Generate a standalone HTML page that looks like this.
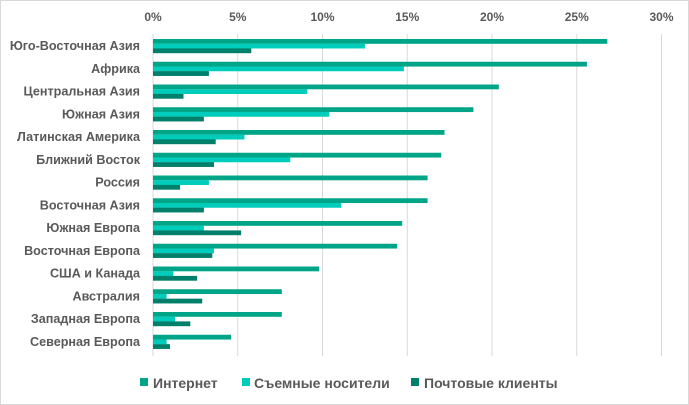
<!DOCTYPE html><html><head><meta charset="utf-8"><style>body{margin:0;background:#fff}svg{display:block}text{font-family:"Liberation Sans",sans-serif;fill:#595959;font-weight:bold;font-size:12px}.a{fill:#00a487}.b{fill:#00ccbc}.c{fill:#007f6b}.l{text-anchor:end;font-size:12.6px}.g{font-size:14px}</style></head><body>
<svg width="689" height="405" xmlns="http://www.w3.org/2000/svg">
<rect x="0.5" y="0.5" width="688" height="404" fill="#fff" stroke="#d9d9d9"/>
<g stroke="#d9d9d9">
<line x1="153" y1="34" x2="153" y2="356"/><line x1="237.75" y1="34" x2="237.75" y2="356"/><line x1="322.5" y1="34" x2="322.5" y2="356"/><line x1="407.25" y1="34" x2="407.25" y2="356"/><line x1="492" y1="34" x2="492" y2="356"/><line x1="576.75" y1="34" x2="576.75" y2="356"/><line x1="661.5" y1="34" x2="661.5" y2="356"/>
</g>
<g text-anchor="middle">
<text x="153" y="21">0%</text><text x="237.75" y="21">5%</text><text x="322.5" y="21">10%</text><text x="407.25" y="21">15%</text><text x="492" y="21">20%</text><text x="576.75" y="21">25%</text><text x="661.5" y="21">30%</text>
</g>
<g transform="translate(153,39)"><rect class="a" y="0" width="454.3" height="4.8"/><rect class="b" y="4.7" width="211.9" height="4.8"/><rect class="c" y="9.4" width="98.3" height="4.8"/><text class="l" x="-13" y="11">Юго-Восточная Азия</text></g>
<g transform="translate(153,61.75)"><rect class="a" y="0" width="433.9" height="4.8"/><rect class="b" y="4.7" width="250.9" height="4.8"/><rect class="c" y="9.4" width="55.9" height="4.8"/><text class="l" x="-13" y="11">Африка</text></g>
<g transform="translate(153,84.5)"><rect class="a" y="0" width="345.8" height="4.8"/><rect class="b" y="4.7" width="154.2" height="4.8"/><rect class="c" y="9.4" width="30.5" height="4.8"/><text class="l" x="-13" y="11">Центральная Азия</text></g>
<g transform="translate(153,107.25)"><rect class="a" y="0" width="320.4" height="4.8"/><rect class="b" y="4.7" width="176.3" height="4.8"/><rect class="c" y="9.4" width="50.9" height="4.8"/><text class="l" x="-13" y="11">Южная Азия</text></g>
<g transform="translate(153,130)"><rect class="a" y="0" width="291.5" height="4.8"/><rect class="b" y="4.7" width="91.5" height="4.8"/><rect class="c" y="9.4" width="62.7" height="4.8"/><text class="l" x="-13" y="11">Латинская Америка</text></g>
<g transform="translate(153,152.75)"><rect class="a" y="0" width="288.2" height="4.8"/><rect class="b" y="4.7" width="137.3" height="4.8"/><rect class="c" y="9.4" width="61" height="4.8"/><text class="l" x="-13" y="11">Ближний Восток</text></g>
<g transform="translate(153,175.5)"><rect class="a" y="0" width="274.6" height="4.8"/><rect class="b" y="4.7" width="55.9" height="4.8"/><rect class="c" y="9.4" width="27.1" height="4.8"/><text class="l" x="-13" y="11">Россия</text></g>
<g transform="translate(153,198.25)"><rect class="a" y="0" width="274.6" height="4.8"/><rect class="b" y="4.7" width="188.1" height="4.8"/><rect class="c" y="9.4" width="50.9" height="4.8"/><text class="l" x="-13" y="11">Восточная Азия</text></g>
<g transform="translate(153,221)"><rect class="a" y="0" width="249.2" height="4.8"/><rect class="b" y="4.7" width="50.9" height="4.8"/><rect class="c" y="9.4" width="88.1" height="4.8"/><text class="l" x="-13" y="11">Южная Европа</text></g>
<g transform="translate(153,243.75)"><rect class="a" y="0" width="244.1" height="4.8"/><rect class="b" y="4.7" width="61" height="4.8"/><rect class="c" y="9.4" width="59.3" height="4.8"/><text class="l" x="-13" y="11">Восточная Европа</text></g>
<g transform="translate(153,266.5)"><rect class="a" y="0" width="166.1" height="4.8"/><rect class="b" y="4.7" width="20.3" height="4.8"/><rect class="c" y="9.4" width="44.1" height="4.8"/><text class="l" x="-13" y="11">США и Канада</text></g>
<g transform="translate(153,289.25)"><rect class="a" y="0" width="128.8" height="4.8"/><rect class="b" y="4.7" width="13.6" height="4.8"/><rect class="c" y="9.4" width="49.2" height="4.8"/><text class="l" x="-13" y="11">Австралия</text></g>
<g transform="translate(153,312)"><rect class="a" y="0" width="128.8" height="4.8"/><rect class="b" y="4.7" width="22" height="4.8"/><rect class="c" y="9.4" width="37.3" height="4.8"/><text class="l" x="-13" y="11">Западная Европа</text></g>
<g transform="translate(153,334.75)"><rect class="a" y="0" width="78" height="4.8"/><rect class="b" y="4.7" width="13.6" height="4.8"/><rect class="c" y="9.4" width="17" height="4.8"/><text class="l" x="-13" y="11">Северная Европа</text></g>
<rect class="a" x="140" y="378" width="8" height="8"/><text class="g" x="153" y="388">Интернет</text>
<rect class="b" x="242" y="378" width="8" height="8"/><text class="g" x="254" y="388">Съемные носители</text>
<rect class="c" x="411" y="378" width="8" height="8"/><text class="g" x="424" y="388">Почтовые клиенты</text>
</svg></body></html>
